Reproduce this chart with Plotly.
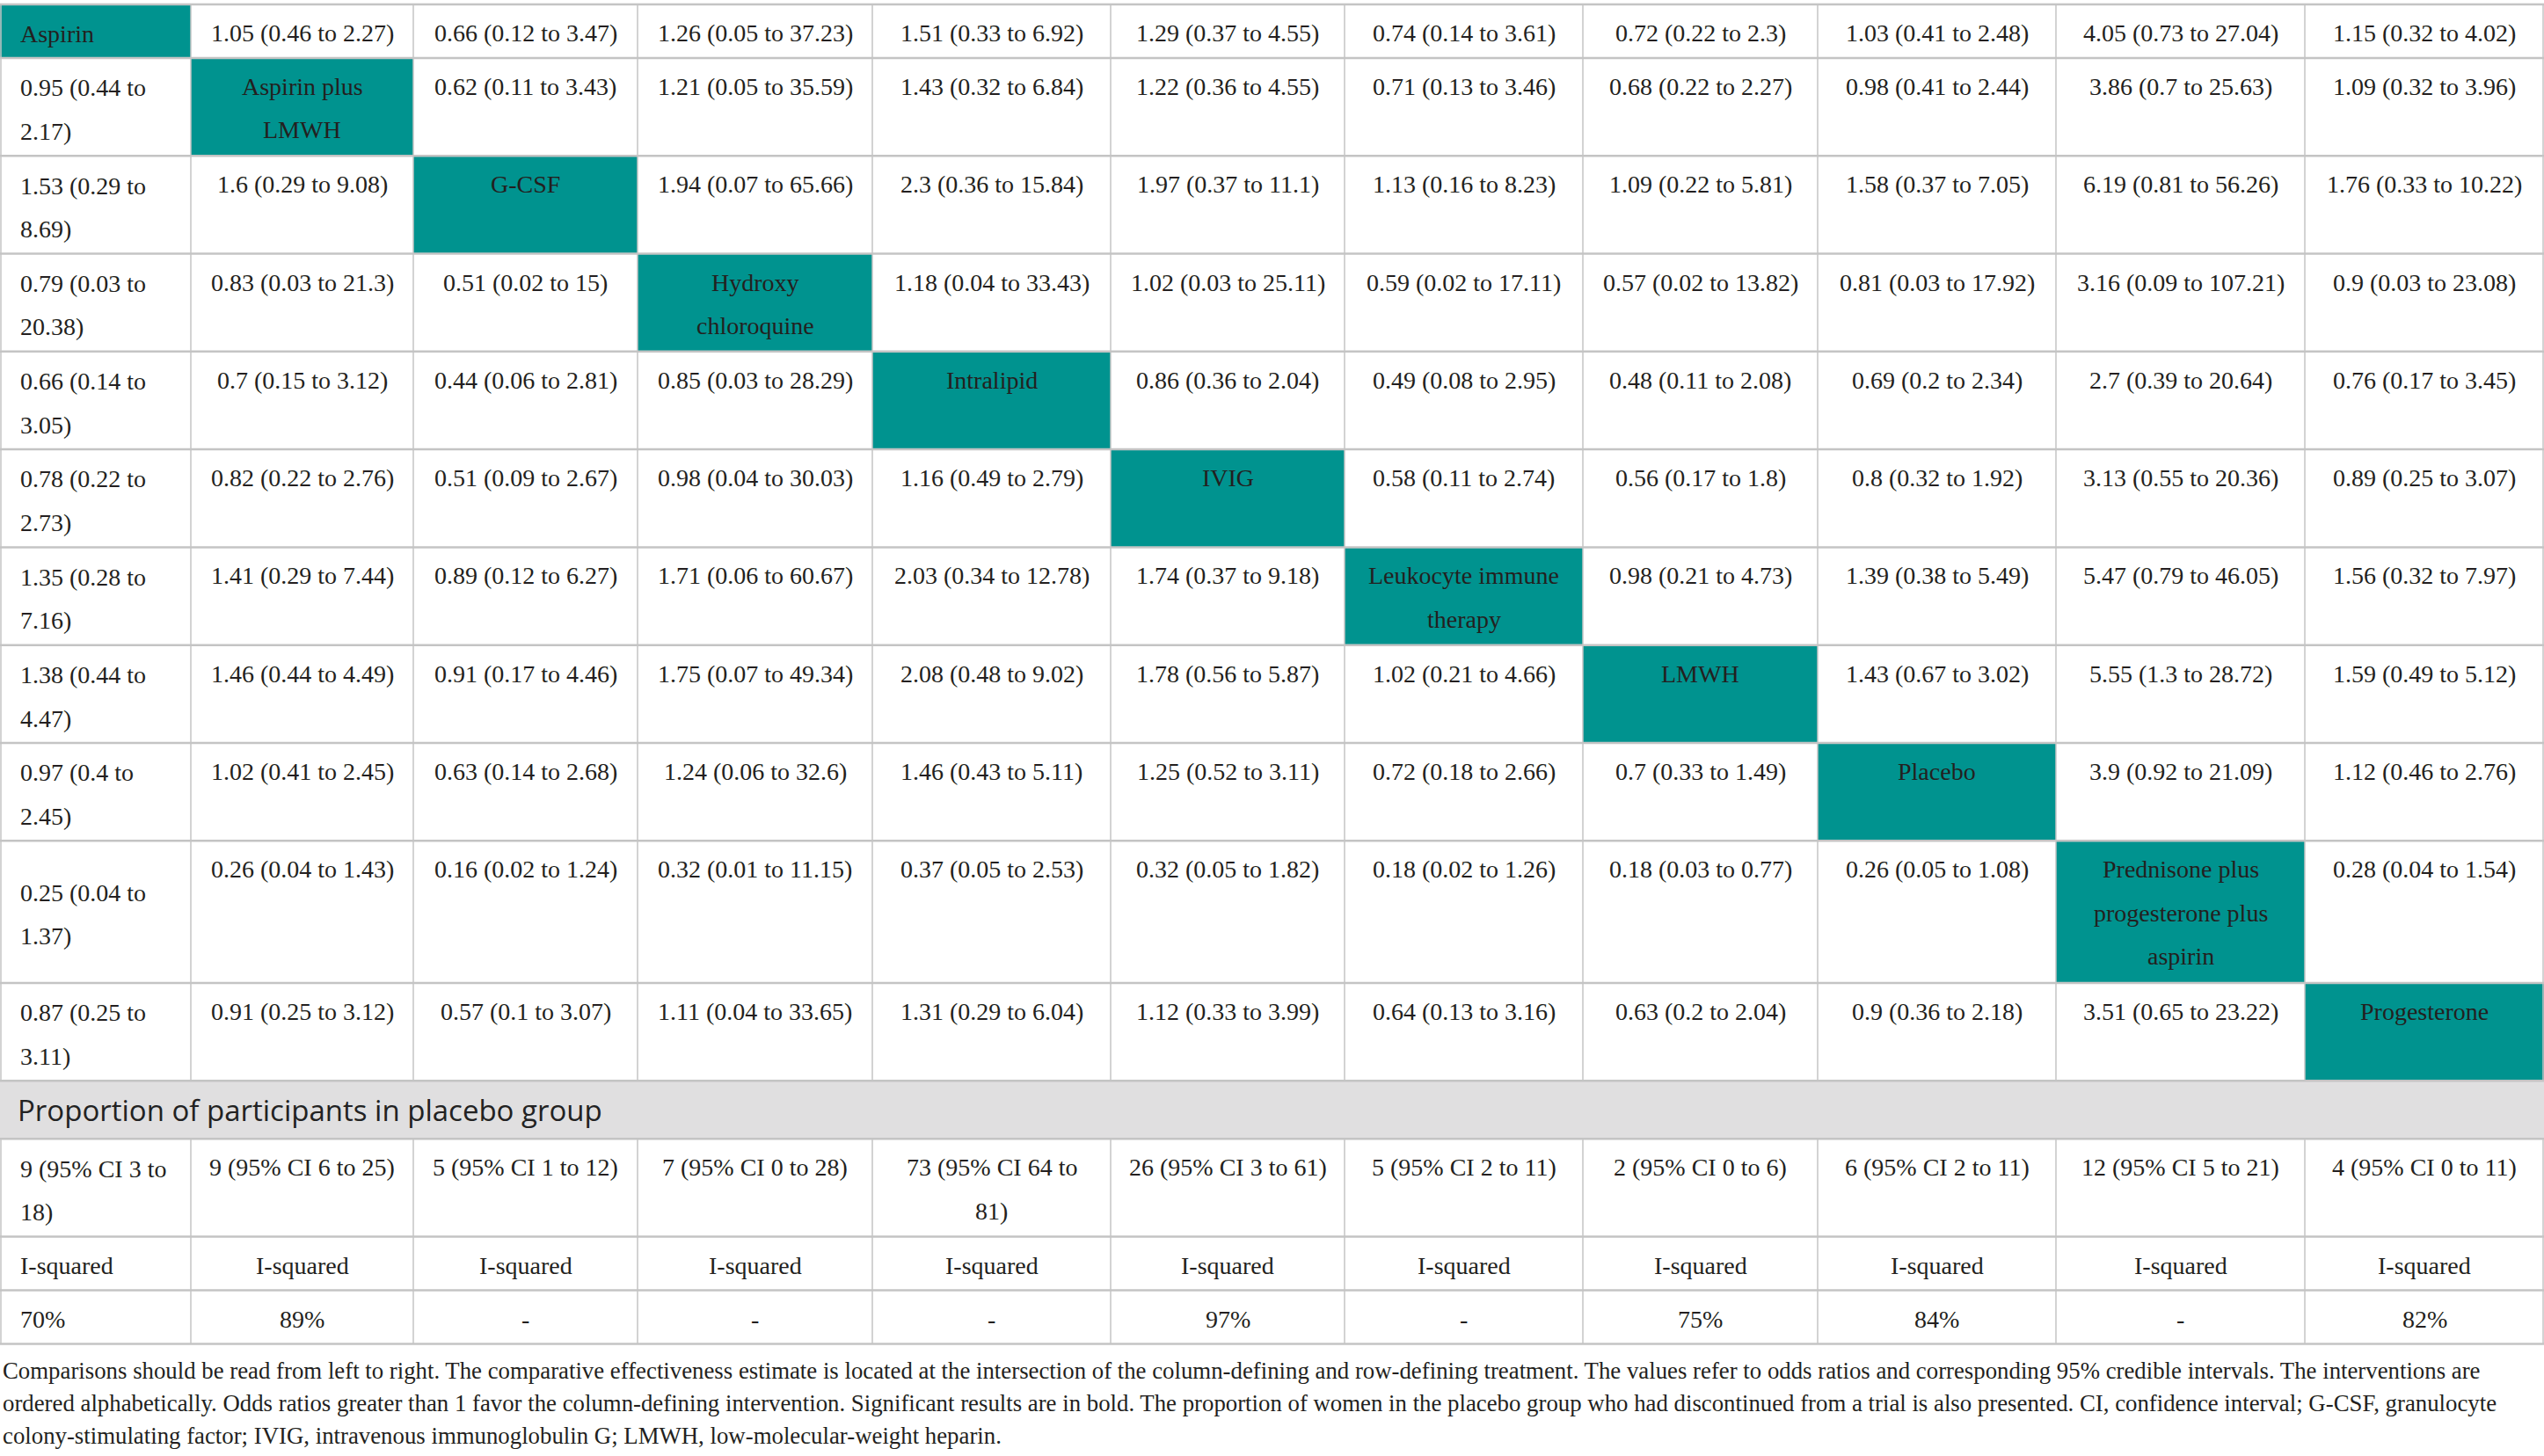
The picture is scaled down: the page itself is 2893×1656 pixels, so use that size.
import plotly.graph_objects as go

# ---- data -----------------------------------------------------------------
treatments = [
    "Aspirin",
    "Aspirin plus LMWH",
    "G-CSF",
    "Hydroxy chloroquine",
    "Intralipid",
    "IVIG",
    "Leukocyte immune therapy",
    "LMWH",
    "Placebo",
    "Prednisone plus progesterone plus aspirin",
    "Progesterone",
]

# league table: row = row-defining treatment, None on the diagonal
league = [
    [None, "1.05 (0.46 to 2.27)", "0.66 (0.12 to 3.47)", "1.26 (0.05 to 37.23)", "1.51 (0.33 to 6.92)",
     "1.29 (0.37 to 4.55)", "0.74 (0.14 to 3.61)", "0.72 (0.22 to 2.3)", "1.03 (0.41 to 2.48)",
     "4.05 (0.73 to 27.04)", "1.15 (0.32 to 4.02)"],
    ["0.95 (0.44 to 2.17)", None, "0.62 (0.11 to 3.43)", "1.21 (0.05 to 35.59)", "1.43 (0.32 to 6.84)",
     "1.22 (0.36 to 4.55)", "0.71 (0.13 to 3.46)", "0.68 (0.22 to 2.27)", "0.98 (0.41 to 2.44)",
     "3.86 (0.7 to 25.63)", "1.09 (0.32 to 3.96)"],
    ["1.53 (0.29 to 8.69)", "1.6 (0.29 to 9.08)", None, "1.94 (0.07 to 65.66)", "2.3 (0.36 to 15.84)",
     "1.97 (0.37 to 11.1)", "1.13 (0.16 to 8.23)", "1.09 (0.22 to 5.81)", "1.58 (0.37 to 7.05)",
     "6.19 (0.81 to 56.26)", "1.76 (0.33 to 10.22)"],
    ["0.79 (0.03 to 20.38)", "0.83 (0.03 to 21.3)", "0.51 (0.02 to 15)", None, "1.18 (0.04 to 33.43)",
     "1.02 (0.03 to 25.11)", "0.59 (0.02 to 17.11)", "0.57 (0.02 to 13.82)", "0.81 (0.03 to 17.92)",
     "3.16 (0.09 to 107.21)", "0.9 (0.03 to 23.08)"],
    ["0.66 (0.14 to 3.05)", "0.7 (0.15 to 3.12)", "0.44 (0.06 to 2.81)", "0.85 (0.03 to 28.29)", None,
     "0.86 (0.36 to 2.04)", "0.49 (0.08 to 2.95)", "0.48 (0.11 to 2.08)", "0.69 (0.2 to 2.34)",
     "2.7 (0.39 to 20.64)", "0.76 (0.17 to 3.45)"],
    ["0.78 (0.22 to 2.73)", "0.82 (0.22 to 2.76)", "0.51 (0.09 to 2.67)", "0.98 (0.04 to 30.03)",
     "1.16 (0.49 to 2.79)", None, "0.58 (0.11 to 2.74)", "0.56 (0.17 to 1.8)", "0.8 (0.32 to 1.92)",
     "3.13 (0.55 to 20.36)", "0.89 (0.25 to 3.07)"],
    ["1.35 (0.28 to 7.16)", "1.41 (0.29 to 7.44)", "0.89 (0.12 to 6.27)", "1.71 (0.06 to 60.67)",
     "2.03 (0.34 to 12.78)", "1.74 (0.37 to 9.18)", None, "0.98 (0.21 to 4.73)", "1.39 (0.38 to 5.49)",
     "5.47 (0.79 to 46.05)", "1.56 (0.32 to 7.97)"],
    ["1.38 (0.44 to 4.47)", "1.46 (0.44 to 4.49)", "0.91 (0.17 to 4.46)", "1.75 (0.07 to 49.34)",
     "2.08 (0.48 to 9.02)", "1.78 (0.56 to 5.87)", "1.02 (0.21 to 4.66)", None, "1.43 (0.67 to 3.02)",
     "5.55 (1.3 to 28.72)", "1.59 (0.49 to 5.12)"],
    ["0.97 (0.4 to 2.45)", "1.02 (0.41 to 2.45)", "0.63 (0.14 to 2.68)", "1.24 (0.06 to 32.6)",
     "1.46 (0.43 to 5.11)", "1.25 (0.52 to 3.11)", "0.72 (0.18 to 2.66)", "0.7 (0.33 to 1.49)", None,
     "3.9 (0.92 to 21.09)", "1.12 (0.46 to 2.76)"],
    ["0.25 (0.04 to 1.37)", "0.26 (0.04 to 1.43)", "0.16 (0.02 to 1.24)", "0.32 (0.01 to 11.15)",
     "0.37 (0.05 to 2.53)", "0.32 (0.05 to 1.82)", "0.18 (0.02 to 1.26)", "0.18 (0.03 to 0.77)",
     "0.26 (0.05 to 1.08)", None, "0.28 (0.04 to 1.54)"],
    ["0.87 (0.25 to 3.11)", "0.91 (0.25 to 3.12)", "0.57 (0.1 to 3.07)", "1.11 (0.04 to 33.65)",
     "1.31 (0.29 to 6.04)", "1.12 (0.33 to 3.99)", "0.64 (0.13 to 3.16)", "0.63 (0.2 to 2.04)",
     "0.9 (0.36 to 2.18)", "3.51 (0.65 to 23.22)", None],
]

band_title = "Proportion of participants in placebo group"
placebo_share = [
    "9 (95% CI 3 to 18)", "9 (95% CI 6 to 25)", "5 (95% CI 1 to 12)", "7 (95% CI 0 to 28)",
    "73 (95% CI 64 to 81)", "26 (95% CI 3 to 61)", "5 (95% CI 2 to 11)", "2 (95% CI 0 to 6)",
    "6 (95% CI 2 to 11)", "12 (95% CI 5 to 21)", "4 (95% CI 0 to 11)",
]
i_squared_label = "I-squared"
i_squared = ["70%", "89%", "-", "-", "-", "97%", "-", "75%", "84%", "-", "82%"]

footnote_lines = [
    "Comparisons should be read from left to right. The comparative effectiveness estimate is located at the "
    "intersection of the column-defining and row-defining treatment. The values refer to odds ratios and "
    "corresponding 95% credible intervals. The interventions are",
    "ordered alphabetically. Odds ratios greater than 1 favor the column-defining intervention. Significant "
    "results are in bold. The proportion of women in the placebo group who had discontinued from a trial is "
    "also presented. CI, confidence interval; G-CSF, granulocyte",
    "colony-stimulating factor; IVIG, intravenous immunoglobulin G; LMWH, low-molecular-weight heparin.",
]

# ---- layout constants -----------------------------------------------------
W, H = 2893, 1656
col_widths = [217, 253, 255, 267, 271, 266, 271, 267, 271, 283, 272]
TOP = 5
PAD_X = 21
WRAP_PAD = 36
ROW_LINE = 50.4      # row height added per text line
ROW_PAD = 10.5
TEXT_LINE = 49.5     # line pitch inside a cell
FIRST_LINE = 32.5    # centre of first line below the cell top
BAND_H = 66
SERIF = "Liberation Serif, Times New Roman, serif"
SANS = "Open Sans, Noto Sans, sans-serif"
SIZE = 28
TEXT = "#231f20"
TEAL = "#00938f"
BAND = "#e0dfe0"
GRID = "#c4c4c4"

# rough Times-like advance widths (em) used for wrapping only
CHAR_EM = {
    ".": 0.25, " ": 0.25, "(": 0.333, ")": 0.333, "%": 0.833, "-": 0.333,
    "A": 0.722, "C": 0.667, "F": 0.556, "G": 0.722, "H": 0.722, "I": 0.333, "L": 0.611,
    "M": 0.889, "P": 0.556, "S": 0.556, "V": 0.722, "W": 0.944,
    "a": 0.444, "c": 0.444, "e": 0.444, "f": 0.333, "i": 0.278, "l": 0.278, "m": 0.778,
    "r": 0.333, "s": 0.389, "t": 0.278,
}


def text_px(s, size=SIZE):
    return sum(CHAR_EM.get(ch, 0.5) for ch in s) * size


def wrap(s, max_px):
    lines, cur = [], ""
    for word in s.split(" "):
        trial = word if not cur else cur + " " + word
        if cur and text_px(trial) > max_px:
            lines.append(cur)
            cur = word
        else:
            cur = trial
    lines.append(cur)
    return lines


x_edges = [0]
for w in col_widths:
    x_edges.append(x_edges[-1] + w)
n_cols = len(col_widths)


def wrapped_row(cells):
    return [wrap(c, col_widths[j] - WRAP_PAD) for j, c in enumerate(cells)]


def row_height(wrapped):
    n = max(len(lines) for lines in wrapped)
    return ROW_PAD + ROW_LINE * n


shapes, annotations = [], []


def add_row_text(wrapped, top, h):
    for j, lines in enumerate(wrapped):
        if j == 0:
            # first column: left aligned, vertically centred
            mid = top + h / 2 + 2.9
            for k, ln in enumerate(lines):
                y = mid + (k - (len(lines) - 1) / 2) * TEXT_LINE
                annotations.append(dict(x=x_edges[0] + PAD_X, y=y, text=ln, xanchor="left",
                                        yanchor="middle", showarrow=False))
        else:
            cx = (x_edges[j] + x_edges[j + 1]) / 2
            for k, ln in enumerate(lines):
                y = top + FIRST_LINE + k * TEXT_LINE
                annotations.append(dict(x=cx, y=y, text=ln, xanchor="center",
                                        yanchor="middle", showarrow=False))


h_lines = []
y = TOP
h_lines.append(y)
matrix_top = y
for i, row in enumerate(league):
    cells = [treatments[i] if v is None else v for v in row]
    wr = wrapped_row(cells)
    h = row_height(wr)
    shapes.append(dict(type="rect", x0=x_edges[i], x1=x_edges[i + 1], y0=y, y1=y + h,
                       fillcolor=TEAL, line_width=0, layer="below"))
    add_row_text(wr, y, h)
    y += h
    h_lines.append(y)
matrix_bottom = y

# grey band
shapes.append(dict(type="rect", x0=0, x1=W, y0=y, y1=y + BAND_H, fillcolor=BAND,
                   line_width=0, layer="below"))
annotations.append(dict(x=PAD_X - 3, y=y + BAND_H / 2, text=band_title, xanchor="left", yanchor="middle",
                        showarrow=False, font=dict(family=SANS, size=33, color="#222222")))
y += BAND_H
h_lines.append(y)
lower_top = y

for cells in (placebo_share, [i_squared_label] * n_cols, i_squared):
    wr = wrapped_row(cells)
    h = row_height(wr)
    add_row_text(wr, y, h)
    y += h
    h_lines.append(y)
lower_bottom = y

# grid
for yy in h_lines:
    shapes.append(dict(type="line", x0=0, x1=W, y0=yy, y1=yy, line=dict(color=GRID, width=2.5)))
for y0, y1 in ((matrix_top, matrix_bottom), (lower_top, lower_bottom)):
    for xx in x_edges:
        xx = min(max(xx, 1), W - 1)
        shapes.append(dict(type="line", x0=xx, x1=xx, y0=y0, y1=y1, line=dict(color=GRID, width=1.5)))

# footnote
for k, ln in enumerate(footnote_lines):
    annotations.append(dict(x=1, y=lower_bottom + 31 + k * 36.6, text=ln, xanchor="left",
                            yanchor="middle", showarrow=False, font=dict(size=26.8)))

fig = go.Figure()
fig.update_layout(
    width=W,
    height=H,
    margin=dict(l=0, r=0, t=0, b=0),
    paper_bgcolor="white",
    plot_bgcolor="white",
    showlegend=False,
    font=dict(family=SERIF, size=SIZE, color=TEXT),
    xaxis=dict(range=[0, W], visible=False, fixedrange=True),
    yaxis=dict(range=[H, 0], visible=False, fixedrange=True),
    shapes=shapes,
    annotations=annotations,
)

# drop the default 8px page margin so the table sits flush with the window
fig.write_html("out.html", config={"displayModeBar": False},
               post_script="document.body.style.margin = '0';")
